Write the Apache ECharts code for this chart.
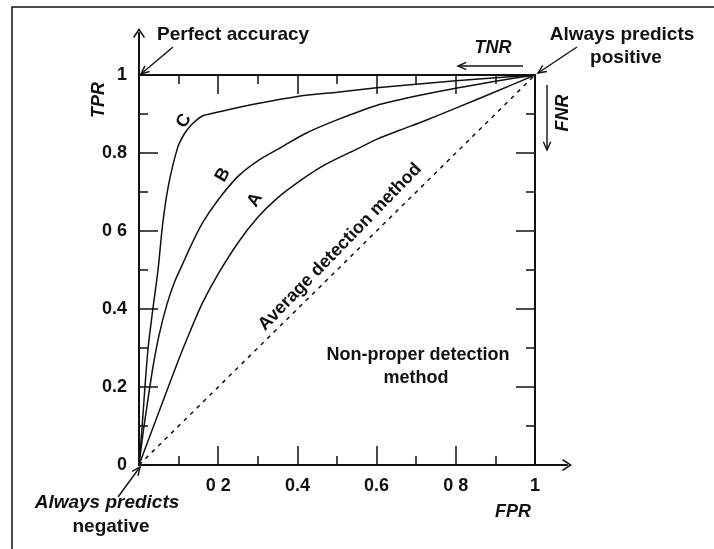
<!DOCTYPE html>
<html>
<head>
<meta charset="utf-8">
<script src="https://cdn.jsdelivr.net/npm/echarts@6/dist/echarts.min.js"></script>
<style>
  html, body { margin: 0; padding: 0; background: #fff; }
  #chart { width: 714px; height: 549px; }
</style>
</head>
<body>
<div id="chart"></div>
<script>
// tick labels as printed (scan dropped some of the dots)
let xTickLabels = ["", "0 2", "0.4", "0.6", "0 8", "1"];
let yTickLabels = ["0", "0.2", "0.4", "0 6", "0.8", "1"];

// ROC curves (FPR, TPR)
let fprA = [0, 0.05, 0.1, 0.13, 0.16, 0.2, 0.25, 0.3, 0.35, 0.41, 0.47, 0.55, 0.6, 0.66, 0.72, 0.8, 0.9, 1];
let tprA = [0, 0.135, 0.27, 0.345, 0.415, 0.49, 0.57, 0.635, 0.685, 0.731, 0.77, 0.81, 0.835, 0.859, 0.882, 0.915, 0.957, 1];

let fprB = [0, 0.01, 0.02, 0.035, 0.05, 0.07, 0.09, 0.11, 0.13, 0.16, 0.2, 0.25, 0.3, 0.36, 0.42, 0.5, 0.6, 0.7, 0.8, 0.9, 1];
let tprB = [0, 0.08, 0.15, 0.25, 0.33, 0.41, 0.47, 0.515, 0.56, 0.62, 0.68, 0.74, 0.78, 0.815, 0.85, 0.885, 0.922, 0.946, 0.966, 0.984, 1];

let fprC = [0, 0.008, 0.015, 0.023, 0.035, 0.048, 0.06, 0.075, 0.098, 0.115, 0.13, 0.146, 0.16, 0.2, 0.28, 0.4, 0.5, 0.6, 0.7, 0.8, 0.9, 1];
let tprC = [0, 0.1, 0.2, 0.3, 0.4, 0.5, 0.62, 0.72, 0.815, 0.85, 0.87, 0.885, 0.895, 0.905, 0.923, 0.945, 0.956, 0.967, 0.976, 0.985, 0.993, 1];

let fprAvg = [0, 1];
let tprAvg = [0, 1];

const FONT = '"Liberation Sans", Arial, sans-serif';
const INK = "#111";

function pairs(xs, ys) {
  return xs.map((x, i) => [x, ys[i]]);
}

// annotation arrow: straight shaft with an open head at (x2, y2)
function arrow(x1, y1, x2, y2) {
  let ang = Math.atan2(y2 - y1, x2 - x1);
  let len = 9, spread = 0.42;
  let p1 = [x2 - len * Math.cos(ang - spread), y2 - len * Math.sin(ang - spread)];
  let p2 = [x2 - len * Math.cos(ang + spread), y2 - len * Math.sin(ang + spread)];
  return [
    { type: "line", shape: { x1: x1, y1: y1, x2: x2, y2: y2 }, style: { stroke: INK, lineWidth: 1.4 } },
    { type: "polyline", shape: { points: [p1, [x2, y2], p2] }, style: { stroke: INK, lineWidth: 1.4, fill: null } },
  ];
}

function label(text, x, y, opts) {
  opts = opts || {};
  return {
    type: "text",
    x: x,
    y: y,
    rotation: opts.rotation || 0,
    style: {
      text: text,
      font: (opts.italic ? "italic " : "") + "bold " + (opts.size || 18) + "px " + FONT,
      fill: INK,
      align: opts.align || "center",
      verticalAlign: "middle",
    },
  };
}

function curve(name, data, dashed) {
  return {
    name: name,
    type: "line",
    xAxisIndex: 0,
    yAxisIndex: 0,
    data: data,
    showSymbol: false,
    smooth: dashed ? false : 0.25,
    lineStyle: { color: INK, width: 1.5, type: dashed ? [4, 5] : "solid" },
    z: 3,
  };
}

// open chevron for the axis ends
const chevron = "path://M6,0 L12,9 L10.7,10 L6,2.7 L1.3,10 L0,9 Z";

let boxTick = {
  show: true,
  inside: true,
  length: 19,
  lineStyle: { color: INK, width: 1.5 },
};
let boxMinor = {
  show: true,
  splitNumber: 2,
  length: 9,
  lineStyle: { color: INK, width: 1.5 },
};
let tickFont = { fontSize: 18, fontWeight: "bold", fontFamily: FONT, color: INK };

let chart = echarts.init(document.getElementById("chart"), null, { renderer: "canvas" });

let option = {
  animation: false,
  backgroundColor: "#fff",
  grid: [
    { left: 139, right: 179, top: 75, bottom: 84 },
    { left: 139, right: 147, top: 33, bottom: 84 },
  ],
  xAxis: [
    {
      gridIndex: 0, type: "value", position: "bottom", min: 0, max: 1, interval: 0.2,
      axisLine: { show: false, onZero: false },
      axisTick: boxTick, minorTick: boxMinor,
      splitLine: { show: false },
      axisLabel: Object.assign({
        margin: 12,
        formatter: (v) => xTickLabels[Math.round(v / 0.2)],
      }, tickFont),
    },
    {
      gridIndex: 0, type: "value", position: "top", min: 0, max: 1, interval: 0.2,
      axisLine: { show: true, onZero: false, lineStyle: { color: INK, width: 2 } },
      axisTick: boxTick, minorTick: boxMinor,
      splitLine: { show: false },
      axisLabel: { show: false },
    },
    {
      gridIndex: 1, type: "value", min: 0, max: 1.08,
      axisLine: {
        show: true, onZero: false,
        symbol: ["none", chevron], symbolSize: [12, 10],
        lineStyle: { color: INK, width: 2 },
      },
      axisTick: { show: false }, axisLabel: { show: false }, splitLine: { show: false },
    },
  ],
  yAxis: [
    {
      gridIndex: 0, type: "value", position: "left", min: 0, max: 1, interval: 0.2,
      axisLine: { show: false, onZero: false },
      axisTick: boxTick, minorTick: boxMinor,
      splitLine: { show: false },
      axisLabel: Object.assign({
        margin: 12,
        formatter: (v) => yTickLabels[Math.round(v / 0.2)],
      }, tickFont),
    },
    {
      gridIndex: 0, type: "value", position: "right", min: 0, max: 1, interval: 0.2,
      axisLine: { show: true, onZero: false, lineStyle: { color: INK, width: 2 } },
      axisTick: boxTick, minorTick: boxMinor,
      splitLine: { show: false },
      axisLabel: { show: false },
    },
    {
      gridIndex: 1, type: "value", min: 0, max: 1.108,
      axisLine: {
        show: true, onZero: false,
        symbol: ["none", chevron], symbolSize: [12, 10],
        lineStyle: { color: INK, width: 2 },
      },
      axisTick: { show: false }, axisLabel: { show: false }, splitLine: { show: false },
    },
  ],
  series: [
    curve("A", pairs(fprA, tprA)),
    curve("B", pairs(fprB, tprB)),
    curve("C", pairs(fprC, tprC)),
    curve("Average detection method", pairs(fprAvg, tprAvg), true),
  ],
  graphic: [
    // frame of the scanned figure
    {
      type: "polyline",
      shape: { points: [[12, 549], [12, 7], [714, 7]] },
      style: { stroke: INK, lineWidth: 1.5, fill: null },
    },
    label("Perfect accuracy", 157, 35, { align: "left", size: 19 }),
    ...arrow(173, 47, 141, 74),
    label("TNR", 493, 48, { italic: true }),
    ...arrow(523, 66, 458, 66),
    label("Always predicts", 622, 35, { size: 19 }),
    label("positive", 626, 58, { size: 19 }),
    ...arrow(577, 47, 538, 73),
    label("FNR", 563, 113, { italic: true, rotation: Math.PI / 2 }),
    ...arrow(547, 85, 547, 150),
    label("TPR", 99, 100, { italic: true, rotation: Math.PI / 2 }),
    label("FPR", 513, 512, { italic: true }),
    label("Always predicts", 107, 503, { italic: true, size: 19 }),
    label("negative", 111, 527, { size: 19 }),
    ...arrow(118, 497, 140, 467),
    label("Non-proper detection", 418, 355),
    label("method", 416, 378),
    label("Average detection method", 340, 247, { rotation: 0.8 }),
    label("C", 184, 121, { rotation: Math.PI / 3 }),
    label("B", 223, 175, { rotation: Math.PI / 3 }),
    label("A", 255, 200, { rotation: Math.PI / 3 }),
  ],
};

chart.setOption(option);
</script>
</body>
</html>
